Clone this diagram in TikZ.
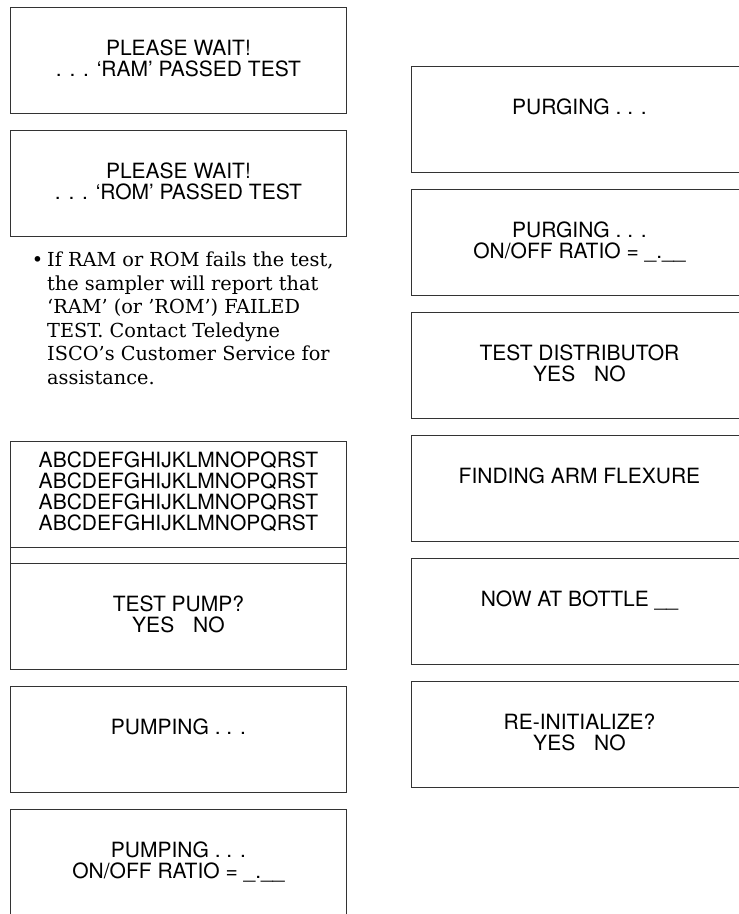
\documentclass[tikz,border=0pt]{standalone}
\usepackage{fontspec}
\setsansfont{TeX Gyre Heros}
\newfontfamily\manualfont{DejaVu Serif}
\usetikzlibrary{positioning}

\begin{document}
\begin{tikzpicture}[x=1pt, y=-1pt,
    node distance=16pt,
    screen/.style={draw=black!80, line width=0.9pt, rectangle, minimum width=336pt, minimum height=106pt, anchor=north west, inner sep=0pt},
    msg/.style={align=center, inner sep=0pt, font=\sffamily\fontsize{21}{21}\selectfont},
    note/.style={align=left, inner sep=0pt, anchor=north west, font=\manualfont\fontsize{19.3}{23.5}\selectfont}
  ]
    \useasboundingbox (0,0) rectangle (739,914);
    \clip (0,0) rectangle (739,914);

    % left column
    \node[screen] (ram) at (10,7) {};
    \node[screen, below=of ram] (rom) {};
    \node[screen] (abc) at (10,441) {};
    \node[screen, below=15pt of abc] (pump) {};
    \node[screen, below=of pump] (pumping) {};
    \node[screen, below=of pumping] (pumpratio) {};
    \draw[draw=black!80, line width=0.9pt] (abc.south west) -- (pump.north west);
    \draw[draw=black!80, line width=0.9pt] (abc.south east) -- (pump.north east);

    \node[msg, below=33pt of ram.north] (ramtxt) {PLEASE WAIT!\\. . . ‘RAM’ PASSED TEST};
    \node[msg, below=33pt of rom.north] (romtxt) {PLEASE WAIT!\\. . . ‘ROM’ PASSED TEST};
    \node[note] (failnote) at (47,252) {\llap{•\hspace{4pt}}If RAM or ROM fails the test,\\
      the sampler will report that\\
      ‘RAM’ (or ’ROM’) FAILED\\
      TEST. Contact Teledyne\\
      ISCO’s Customer Service for\\
      assistance.};
    \node[msg, below=11pt of abc.north] (abctxt) {ABCDEFGHIJKLMNOPQRST\\ABCDEFGHIJKLMNOPQRST\\ABCDEFGHIJKLMNOPQRST\\ABCDEFGHIJKLMNOPQRST};
    \node[msg, below=33pt of pump.north] (pumptxt) {TEST PUMP?\\YES\hspace{0.9em}NO};
    \node[msg, below=33pt of pumping.north] (pumpingtxt) {PUMPING . . .};
    \node[msg, below=33pt of pumpratio.north] (pumpratiotxt) {PUMPING . . .\\ON/OFF RATIO = \_.\_\_};

    % right column
    \node[screen] (purge) at (411,66) {};
    \node[screen, below=of purge] (purgeratio) {};
    \node[screen, below=of purgeratio] (dist) {};
    \node[screen, below=of dist] (flexure) {};
    \node[screen, below=of flexure] (bottle) {};
    \node[screen, below=of bottle] (reinit) {};

    \node[msg, below=33pt of purge.north] (purgetxt) {PURGING . . .};
    \node[msg, below=33pt of purgeratio.north] (purgeratiotxt) {PURGING . . .\\ON/OFF RATIO = \_.\_\_};
    \node[msg, below=33pt of dist.north] (disttxt) {TEST DISTRIBUTOR\\YES\hspace{0.9em}NO};
    \node[msg, below=33pt of flexure.north] (flexuretxt) {FINDING ARM FLEXURE};
    \node[msg, below=33pt of bottle.north] (bottletxt) {NOW AT BOTTLE \_\_};
    \node[msg, below=33pt of reinit.north] (reinittxt) {RE-INITIALIZE?\\YES\hspace{0.9em}NO};
  \end{tikzpicture}
\end{document}
